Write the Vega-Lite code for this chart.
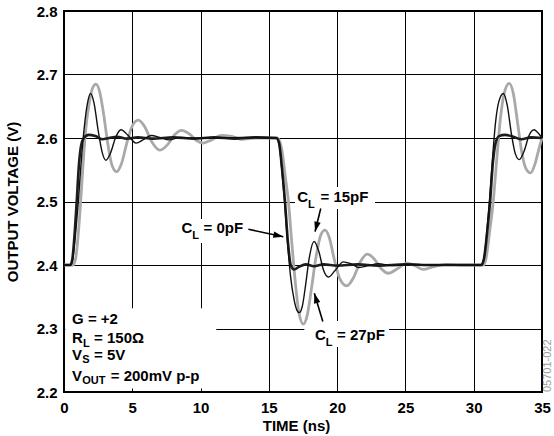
{
  "$schema": "https://vega.github.io/schema/vega-lite/v6.json",
  "width": 478,
  "height": 381,
  "autosize": {"type": "none"},
  "padding": {"left": 64, "top": 11, "right": 12, "bottom": 44},
  "background": "white",
  "config": {
    "view": {"stroke": "#000", "strokeWidth": 2},
    "font": "Liberation Sans",
    "axis": {
      "grid": true, "gridColor": "#000", "gridOpacity": 1, "gridWidth": 1,
      "domain": false, "ticks": false,
      "labelFont": "Liberation Sans", "labelFontWeight": "bold", "labelFontSize": 15, "labelColor": "#000",
      "labelFlush": false, "labelOverlap": false,
      "titleFont": "Liberation Sans", "titleFontWeight": "bold", "titleFontSize": 15, "titleColor": "#000"
    }
  },
  "datasets": {
    "curves": [
      {"s":"0pF","t":0,"v":2.4},{"s":"0pF","t":0.45,"v":2.4},{"s":"0pF","t":0.6,"v":2.408},{"s":"0pF","t":0.78,"v":2.45},{"s":"0pF","t":0.93,"v":2.5},{"s":"0pF","t":1.1,"v":2.56},{"s":"0pF","t":1.25,"v":2.588},{"s":"0pF","t":1.45,"v":2.6},{"s":"0pF","t":1.8,"v":2.605},{"s":"0pF","t":2.3,"v":2.603},{"s":"0pF","t":2.8,"v":2.598},{"s":"0pF","t":3.3,"v":2.6},{"s":"0pF","t":3.9,"v":2.602},{"s":"0pF","t":4.6,"v":2.599},{"s":"0pF","t":5.4,"v":2.601},{"s":"0pF","t":6.5,"v":2.599},{"s":"0pF","t":8,"v":2.601},{"s":"0pF","t":9.5,"v":2.599},{"s":"0pF","t":11,"v":2.601},{"s":"0pF","t":12.5,"v":2.599},{"s":"0pF","t":14,"v":2.601},{"s":"0pF","t":15.55,"v":2.6},{"s":"0pF","t":15.75,"v":2.592},{"s":"0pF","t":15.95,"v":2.555},{"s":"0pF","t":16.18,"v":2.5},{"s":"0pF","t":16.4,"v":2.435},{"s":"0pF","t":16.6,"v":2.4},{"s":"0pF","t":16.85,"v":2.393},{"s":"0pF","t":17.2,"v":2.397},{"s":"0pF","t":17.7,"v":2.401},{"s":"0pF","t":18.3,"v":2.398},{"s":"0pF","t":19,"v":2.401},{"s":"0pF","t":20,"v":2.399},{"s":"0pF","t":21.5,"v":2.401},{"s":"0pF","t":23,"v":2.399},{"s":"0pF","t":25,"v":2.401},{"s":"0pF","t":27,"v":2.4},{"s":"0pF","t":30.55,"v":2.4},{"s":"0pF","t":30.75,"v":2.41},{"s":"0pF","t":31.0,"v":2.455},{"s":"0pF","t":31.2,"v":2.5},{"s":"0pF","t":31.4,"v":2.56},{"s":"0pF","t":31.6,"v":2.592},{"s":"0pF","t":31.85,"v":2.603},{"s":"0pF","t":32.3,"v":2.605},{"s":"0pF","t":32.9,"v":2.602},{"s":"0pF","t":33.5,"v":2.598},{"s":"0pF","t":34.2,"v":2.601},{"s":"0pF","t":35,"v":2.6},
      {"s":"15pF","t":0,"v":2.4},{"s":"15pF","t":0.5,"v":2.4},{"s":"15pF","t":0.65,"v":2.41},{"s":"15pF","t":0.85,"v":2.45},{"s":"15pF","t":1.05,"v":2.5},{"s":"15pF","t":1.25,"v":2.56},{"s":"15pF","t":1.5,"v":2.62},{"s":"15pF","t":1.72,"v":2.655},{"s":"15pF","t":1.95,"v":2.67},{"s":"15pF","t":2.2,"v":2.655},{"s":"15pF","t":2.5,"v":2.612},{"s":"15pF","t":2.8,"v":2.577},{"s":"15pF","t":3.07,"v":2.565},{"s":"15pF","t":3.4,"v":2.576},{"s":"15pF","t":3.8,"v":2.602},{"s":"15pF","t":4.17,"v":2.613},{"s":"15pF","t":4.7,"v":2.604},{"s":"15pF","t":5.27,"v":2.592},{"s":"15pF","t":5.85,"v":2.598},{"s":"15pF","t":6.4,"v":2.604},{"s":"15pF","t":7.0,"v":2.601},{"s":"15pF","t":7.7,"v":2.597},{"s":"15pF","t":8.5,"v":2.601},{"s":"15pF","t":9.5,"v":2.6},{"s":"15pF","t":11,"v":2.6},{"s":"15pF","t":13,"v":2.601},{"s":"15pF","t":15.55,"v":2.6},{"s":"15pF","t":15.75,"v":2.59},{"s":"15pF","t":15.95,"v":2.55},{"s":"15pF","t":16.15,"v":2.5},{"s":"15pF","t":16.35,"v":2.44},{"s":"15pF","t":16.6,"v":2.38},{"s":"15pF","t":16.85,"v":2.345},{"s":"15pF","t":17.05,"v":2.329},{"s":"15pF","t":17.23,"v":2.325},{"s":"15pF","t":17.45,"v":2.335},{"s":"15pF","t":17.7,"v":2.37},{"s":"15pF","t":17.95,"v":2.41},{"s":"15pF","t":18.31,"v":2.437},{"s":"15pF","t":18.65,"v":2.422},{"s":"15pF","t":19.0,"v":2.392},{"s":"15pF","t":19.36,"v":2.381},{"s":"15pF","t":19.8,"v":2.39},{"s":"15pF","t":20.45,"v":2.405},{"s":"15pF","t":21.0,"v":2.402},{"s":"15pF","t":21.6,"v":2.396},{"s":"15pF","t":22.3,"v":2.399},{"s":"15pF","t":23,"v":2.402},{"s":"15pF","t":24,"v":2.399},{"s":"15pF","t":25.5,"v":2.401},{"s":"15pF","t":27,"v":2.4},{"s":"15pF","t":30.55,"v":2.4},{"s":"15pF","t":30.75,"v":2.41},{"s":"15pF","t":30.95,"v":2.45},{"s":"15pF","t":31.15,"v":2.5},{"s":"15pF","t":31.35,"v":2.56},{"s":"15pF","t":31.6,"v":2.625},{"s":"15pF","t":31.85,"v":2.658},{"s":"15pF","t":32.17,"v":2.67},{"s":"15pF","t":32.45,"v":2.652},{"s":"15pF","t":32.75,"v":2.608},{"s":"15pF","t":33.05,"v":2.575},{"s":"15pF","t":33.34,"v":2.566},{"s":"15pF","t":33.7,"v":2.58},{"s":"15pF","t":34.05,"v":2.604},{"s":"15pF","t":34.42,"v":2.613},{"s":"15pF","t":34.75,"v":2.607},{"s":"15pF","t":35,"v":2.6},
      {"s":"27pF","t":0,"v":2.4},{"s":"27pF","t":0.65,"v":2.4},{"s":"27pF","t":0.85,"v":2.41},{"s":"27pF","t":1.05,"v":2.45},{"s":"27pF","t":1.22,"v":2.5},{"s":"27pF","t":1.4,"v":2.56},{"s":"27pF","t":1.6,"v":2.615},{"s":"27pF","t":1.85,"v":2.655},{"s":"27pF","t":2.08,"v":2.678},{"s":"27pF","t":2.34,"v":2.685},{"s":"27pF","t":2.6,"v":2.674},{"s":"27pF","t":2.9,"v":2.638},{"s":"27pF","t":3.2,"v":2.592},{"s":"27pF","t":3.5,"v":2.558},{"s":"27pF","t":3.86,"v":2.547},{"s":"27pF","t":4.2,"v":2.559},{"s":"27pF","t":4.6,"v":2.592},{"s":"27pF","t":5.0,"v":2.619},{"s":"27pF","t":5.44,"v":2.628},{"s":"27pF","t":5.9,"v":2.618},{"s":"27pF","t":6.4,"v":2.595},{"s":"27pF","t":7.03,"v":2.581},{"s":"27pF","t":7.6,"v":2.59},{"s":"27pF","t":8.1,"v":2.605},{"s":"27pF","t":8.6,"v":2.612},{"s":"27pF","t":9.2,"v":2.606},{"s":"27pF","t":9.7,"v":2.596},{"s":"27pF","t":10.2,"v":2.592},{"s":"27pF","t":10.8,"v":2.597},{"s":"27pF","t":11.5,"v":2.604},{"s":"27pF","t":12.2,"v":2.603},{"s":"27pF","t":13,"v":2.598},{"s":"27pF","t":14,"v":2.6},{"s":"27pF","t":15.6,"v":2.6},{"s":"27pF","t":15.8,"v":2.594},{"s":"27pF","t":16.0,"v":2.575},{"s":"27pF","t":16.2,"v":2.54},{"s":"27pF","t":16.43,"v":2.5},{"s":"27pF","t":16.7,"v":2.43},{"s":"27pF","t":16.95,"v":2.37},{"s":"27pF","t":17.2,"v":2.325},{"s":"27pF","t":17.52,"v":2.307},{"s":"27pF","t":17.8,"v":2.32},{"s":"27pF","t":18.1,"v":2.36},{"s":"27pF","t":18.45,"v":2.412},{"s":"27pF","t":18.8,"v":2.447},{"s":"27pF","t":19.11,"v":2.455},{"s":"27pF","t":19.4,"v":2.445},{"s":"27pF","t":19.8,"v":2.408},{"s":"27pF","t":20.2,"v":2.378},{"s":"27pF","t":20.7,"v":2.367},{"s":"27pF","t":21.2,"v":2.38},{"s":"27pF","t":21.7,"v":2.405},{"s":"27pF","t":22.2,"v":2.417},{"s":"27pF","t":22.7,"v":2.41},{"s":"27pF","t":23.2,"v":2.395},{"s":"27pF","t":23.75,"v":2.387},{"s":"27pF","t":24.4,"v":2.394},{"s":"27pF","t":25.1,"v":2.403},{"s":"27pF","t":25.7,"v":2.399},{"s":"27pF","t":26.3,"v":2.393},{"s":"27pF","t":27,"v":2.397},{"s":"27pF","t":28,"v":2.401},{"s":"27pF","t":29,"v":2.4},{"s":"27pF","t":30.7,"v":2.4},{"s":"27pF","t":30.9,"v":2.41},{"s":"27pF","t":31.15,"v":2.45},{"s":"27pF","t":31.43,"v":2.5},{"s":"27pF","t":31.7,"v":2.57},{"s":"27pF","t":31.95,"v":2.63},{"s":"27pF","t":32.25,"v":2.672},{"s":"27pF","t":32.6,"v":2.686},{"s":"27pF","t":32.9,"v":2.67},{"s":"27pF","t":33.2,"v":2.626},{"s":"27pF","t":33.5,"v":2.58},{"s":"27pF","t":33.8,"v":2.553},{"s":"27pF","t":34.17,"v":2.545},{"s":"27pF","t":34.5,"v":2.56},{"s":"27pF","t":34.8,"v":2.585},{"s":"27pF","t":35,"v":2.6}
    ],
    "box": [
      {"t":0.1,"t2":11.15,"v":2.2055,"v2":2.332},
      {"t":8.42,"t2":13.55,"v":2.4724,"v2":2.4347},
      {"t":16.91,"t2":22.77,"v":2.5228,"v2":2.4882},
      {"t":17.6,"t2":23.8,"v":2.3118,"v2":2.2709}
    ],
    "arrows": [
      {"name":"0pF","t":13.5,"v":2.4562,"t2":16.06,"v2":2.4446},
      {"name":"15pF","t":18.8,"v":2.489,"t2":18.38,"v2":2.4525},
      {"name":"27pF","t":18.95,"v":2.311,"t2":18.33,"v2":2.3554}
    ],
    "heads": [
      {"name":"0pF","t":16.06,"v":2.4446},
      {"name":"15pF","t":18.38,"v":2.4525},
      {"name":"27pF","t":18.33,"v":2.3554}
    ],
    "labels": [
      {"g":"cl","role":"main","t":8.6,"v":2.4499,"txt":"C"},
      {"g":"cl","role":"sub","t":9.39,"v":2.4499,"txt":"L"},
      {"g":"cl","role":"main","t":10.22,"v":2.4499,"txt":"= 0pF"},
      {"g":"cl","role":"main","t":17.08,"v":2.4995,"txt":"C"},
      {"g":"cl","role":"sub","t":17.87,"v":2.4995,"txt":"L"},
      {"g":"cl","role":"main","t":18.78,"v":2.4995,"txt":"= 15pF"},
      {"g":"cl","role":"main","t":18.38,"v":2.2819,"txt":"C"},
      {"g":"cl","role":"sub","t":19.17,"v":2.2819,"txt":"L"},
      {"g":"cl","role":"main","t":19.99,"v":2.2819,"txt":"= 27pF"},
      {"g":"box","role":"main","t":0.59,"v":2.3071,"txt":"G = +2"},
      {"g":"box","role":"main","t":0.59,"v":2.2767,"txt":"R"},
      {"g":"box","role":"sub","t":1.39,"v":2.2767,"txt":"L"},
      {"g":"box","role":"main","t":2.2,"v":2.2767,"txt":"= 150Ω"},
      {"g":"box","role":"main","t":0.59,"v":2.2504,"txt":"V"},
      {"g":"box","role":"sub","t":1.34,"v":2.2504,"txt":"S"},
      {"g":"box","role":"main","t":2.2,"v":2.2504,"txt":"= 5V"},
      {"g":"box","role":"main","t":0.59,"v":2.2178,"txt":"V"},
      {"g":"box","role":"sub","t":1.34,"v":2.2178,"txt":"OUT"},
      {"g":"box","role":"main","t":3.42,"v":2.2178,"txt":"= 200mV p-p"}
    ],
    "code": [{"t":35.45,"v":2.2,"txt":"05701-022"}]
  },
  "encoding": {
    "x": {"field":"t","type":"quantitative","scale":{"domain":[0,35],"nice":false,"zero":false},
          "axis":{"title":"TIME (ns)","values":[0,5,10,15,20,25,30,35],"labelPadding":8,"titlePadding":3,"titleX":232}},
    "y": {"field":"v","type":"quantitative","scale":{"domain":[2.2,2.8],"nice":false,"zero":false},
          "axis":{"title":"OUTPUT VOLTAGE (V)","values":[2.2,2.3,2.4,2.5,2.6,2.7,2.8],"format":".1f","labelPadding":7,"titlePadding":16}}
  },
  "layer": [
    {"data":{"name":"box"},"mark":{"type":"rect","fill":"white","stroke":null},
     "encoding":{"x2":{"field":"t2"},"y2":{"field":"v2"}}},
    {"data":{"name":"curves"},"transform":[{"filter":"datum.s === '27pF'"}],
     "mark":{"type":"line","color":"#a9a9a9","strokeWidth":2.8,"interpolate":"monotone"}},
    {"data":{"name":"curves"},"transform":[{"filter":"datum.s === '0pF'"}],
     "mark":{"type":"line","color":"#1e1e1e","strokeWidth":2.6,"interpolate":"monotone"}},
    {"data":{"name":"curves"},"transform":[{"filter":"datum.s === '15pF'"}],
     "mark":{"type":"line","color":"#111111","strokeWidth":1.4,"interpolate":"monotone"}},
    {"data":{"name":"arrows"},"mark":{"type":"rule","color":"#000","strokeWidth":1.6},
     "encoding":{"x2":{"field":"t2"},"y2":{"field":"v2"}}},
    {"data":{"name":"heads"},"transform":[{"filter":"datum.name === '0pF'"}],
     "mark":{"type":"point","shape":"M0,0 L-2,-0.65 L-2,0.65 Z","filled":true,"color":"#000","size":100,"angle":12,"opacity":1}},
    {"data":{"name":"heads"},"transform":[{"filter":"datum.name === '15pF'"}],
     "mark":{"type":"point","shape":"M0,0 L-2,-0.65 L-2,0.65 Z","filled":true,"color":"#000","size":100,"angle":104.6,"opacity":1}},
    {"data":{"name":"heads"},"transform":[{"filter":"datum.name === '27pF'"}],
     "mark":{"type":"point","shape":"M0,0 L-2,-0.65 L-2,0.65 Z","filled":true,"color":"#000","size":100,"angle":253.7,"opacity":1}},
    {"data":{"name":"labels"},"transform":[{"filter":"datum.role === 'main'"}],
     "mark":{"type":"text","align":"left","baseline":"alphabetic","fontSize":15,"fontWeight":"bold","font":"Liberation Sans","color":"#000"},
     "encoding":{"text":{"field":"txt"}}},
    {"data":{"name":"labels"},"transform":[{"filter":"datum.role === 'sub' && datum.g === 'cl'"}],
     "mark":{"type":"text","align":"left","baseline":"alphabetic","dy":6,"fontSize":11,"fontWeight":"bold","font":"Liberation Sans","color":"#000"},
     "encoding":{"text":{"field":"txt"}}},
    {"data":{"name":"labels"},"transform":[{"filter":"datum.role === 'sub' && datum.g === 'box'"}],
     "mark":{"type":"text","align":"left","baseline":"alphabetic","dy":3.5,"fontSize":11,"fontWeight":"bold","font":"Liberation Sans","color":"#000"},
     "encoding":{"text":{"field":"txt"}}},
    {"data":{"name":"code"},
     "mark":{"type":"text","align":"left","baseline":"middle","angle":270,"fontSize":11,"font":"Liberation Sans","color":"#9a9a9a"},
     "encoding":{"text":{"field":"txt"}}}
  ]
}
